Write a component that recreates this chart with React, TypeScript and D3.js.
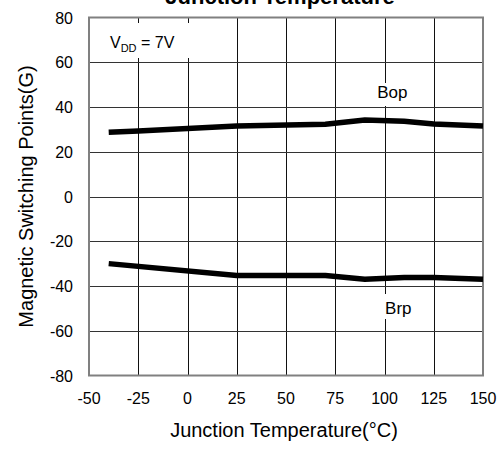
import React from 'react';
import * as d3 from 'd3';

const xTicks = [-50, -25, 0, 25, 50, 75, 100, 125, 150];
const yTicks = [-80, -60, -40, -20, 0, 20, 40, 60, 80];

const bopTemp = [-40, -25, 25, 70, 90, 110, 125, 150];
const bopVal = [28.7, 29.3, 31.5, 32.3, 34.2, 33.6, 32.4, 31.5];

const brpTemp = [-40, 25, 70, 90, 110, 125, 150];
const brpVal = [-30, -35.3, -35.3, -37, -36.2, -36.2, -37];

const W = 503;
const H = 450;
const margin = { top: 17.5, right: 20, bottom: 74.5, left: 89 };

const App = () => {
  const x = d3.scaleLinear().domain([-50, 150]).range([margin.left, W - margin.right]);
  const y = d3.scaleLinear().domain([-80, 80]).range([H - margin.bottom, margin.top]);
  const line = d3.line<[number, number]>().x(d => x(d[0])).y(d => y(d[1]));
  const bop = bopTemp.map((t, i) => [t, bopVal[i]] as [number, number]);
  const brp = brpTemp.map((t, i) => [t, brpVal[i]] as [number, number]);
  const font = '"Liberation Sans", Arial, sans-serif';
  const x0 = x(-50), x1 = x(150), y0 = y(-80), y1 = y(80);

  return (
    <svg width={W} height={H} style={{ position: 'absolute', left: 0, top: 0, background: '#fff' }} fontFamily={font}>
      {/* title, cut off at top */}
      <text x={280} y={4} textAnchor="middle" fontSize={22} fontWeight="bold">Junction Temperature</text>

      {/* grid */}
      {xTicks.slice(1, -1).map(t => (
        <line key={'gx' + t} x1={Math.round(x(t)) + 0.5} x2={Math.round(x(t)) + 0.5} y1={y1} y2={y0} stroke="#111" strokeWidth={1} />
      ))}
      {yTicks.slice(1, -1).map(t => (
        <line key={'gy' + t} x1={x0} x2={x1} y1={Math.round(y(t)) + 0.5} y2={Math.round(y(t)) + 0.5} stroke="#333" strokeWidth={1} />
      ))}
      <rect x={x0} y={y1} width={x1 - x0} height={y0 - y1} fill="none" stroke="#808080" strokeWidth={2} />

      {/* series */}
      <path d={line(bop) || ''} fill="none" stroke="#000" strokeWidth={5.5} />
      <path d={line(brp) || ''} fill="none" stroke="#000" strokeWidth={5.5} />

      {/* labels with white boxes */}
      <rect x={100} y={23} width={92} height={35} fill="#fff" />
      <text x={110} y={48} fontSize={16}>
        V<tspan fontSize={11} dy={4}>DD</tspan><tspan dy={-4}> = 7V</tspan>
      </text>
      <rect x={376} y={83} width={46} height={23} fill="#fff" />
      <text x={x(104)} y={98} textAnchor="middle" fontSize={17}>Bop</text>
      <rect x={376} y={294} width={46} height={25} fill="#fff" />
      <text x={x(107)} y={314} textAnchor="middle" fontSize={17}>Brp</text>

      {/* y tick labels */}
      {yTicks.map(t => (
        <text key={'ty' + t} x={73} y={y(t) + 6} textAnchor="end" fontSize={16}>{t}</text>
      ))}
      {/* x tick labels */}
      {xTicks.map(t => (
        <text key={'tx' + t} x={x(t)} y={404} textAnchor="middle" fontSize={16}>{t}</text>
      ))}

      <text x={(x0 + x1) / 2 - 2} y={437} textAnchor="middle" fontSize={20}>Junction Temperature(°C)</text>
      <text transform={`translate(33,${(y0 + y1) / 2}) rotate(-90)`} textAnchor="middle" fontSize={20}>Magnetic Switching Points(G)</text>
    </svg>
  );
};

export default App;
